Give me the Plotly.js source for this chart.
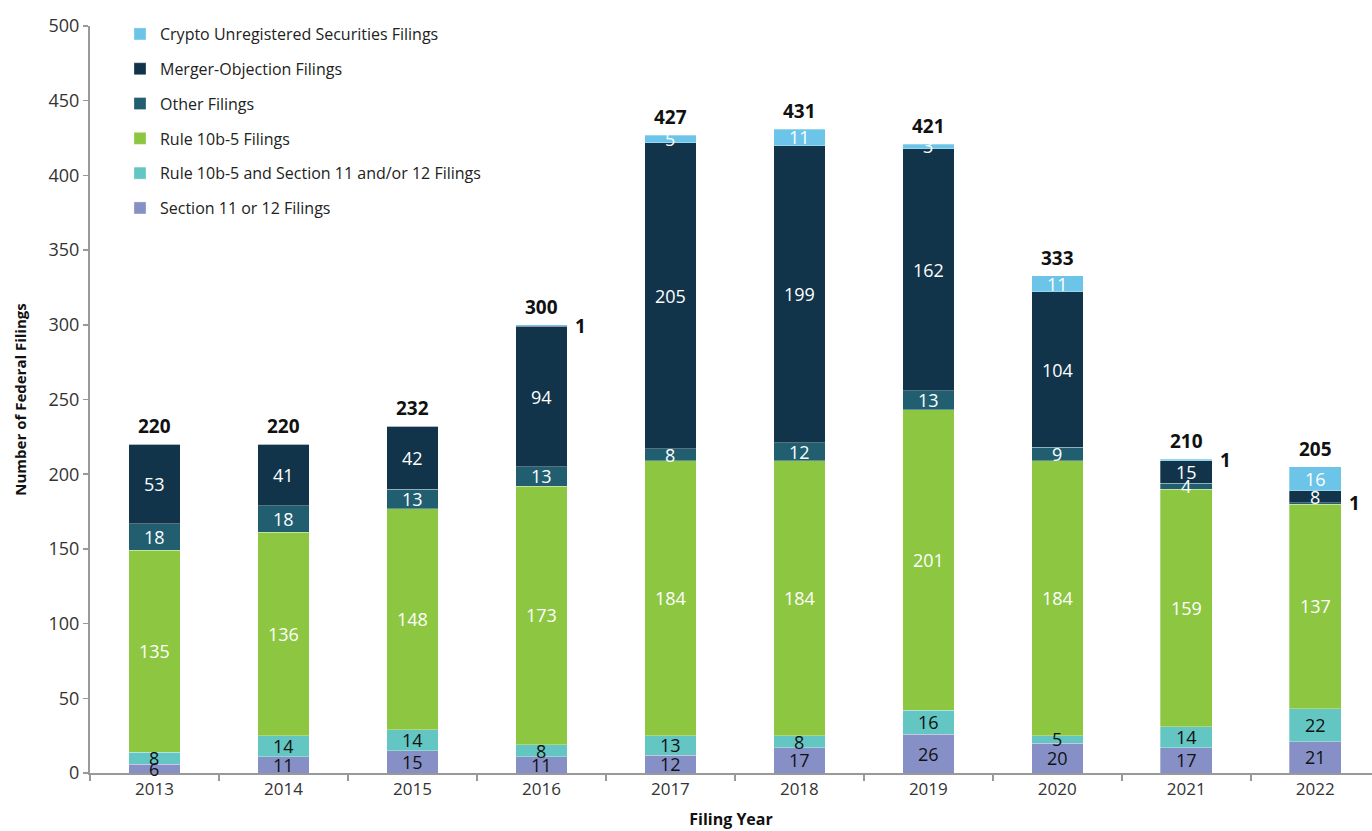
<!DOCTYPE html>
<html>
<head>
<meta charset="utf-8">
<script src="https://cdn.plot.ly/plotly-3.0.1.min.js"></script>
<style>html,body{margin:0;padding:0;background:#fff;}#chart{width:1372px;height:831px;}</style>
</head>
<body>
<div id="chart"></div>
<script>
const years = ["2013","2014","2015","2016","2017","2018","2019","2020","2021","2022"];
const section11 = [6, 11, 15, 11, 12, 17, 26, 20, 17, 21];
const rule10b5Section11 = [8, 14, 14, 8, 13, 8, 16, 5, 14, 22];
const rule10b5 = [135, 136, 148, 173, 184, 184, 201, 184, 159, 137];
const otherFilings = [18, 18, 13, 13, 8, 12, 13, 9, 4, 1];
const mergerObjection = [53, 41, 42, 94, 205, 199, 162, 104, 15, 8];
const crypto = [0, 0, 0, 1, 5, 11, 3, 11, 1, 16];
const totals = [220, 220, 232, 300, 427, 431, 421, 333, 210, 205];

const series = [
  {name: "Section 11 or 12 Filings", values: section11, color: "#8790C6", textColor: "#111111"},
  {name: "Rule 10b-5 and Section 11 and/or 12 Filings", values: rule10b5Section11, color: "#63C6C2", textColor: "#111111"},
  {name: "Rule 10b-5 Filings", values: rule10b5, color: "#8DC641", textColor: "#ffffff"},
  {name: "Other Filings", values: otherFilings, color: "#215E70", textColor: "#ffffff"},
  {name: "Merger-Objection Filings", values: mergerObjection, color: "#12344A", textColor: "#ffffff"},
  {name: "Crypto Unregistered Securities Filings", values: crypto, color: "#6CC4E8", textColor: "#ffffff"}
];

const FONT = "'Open Sans', 'Noto Sans', sans-serif";

const traces = series.map((s, i) => ({
  type: "bar",
  name: s.name,
  x: years,
  y: s.values,
  marker: {color: s.color, line: {color: "rgba(255,255,255,0.6)", width: 0.5}},
  width: 0.4,
  legendgroup: "g" + i,
  legendrank: series.length - i,
  hoverinfo: "x+y+name",
  textposition: "none"
}));

const annotations = [];
const base = years.map(() => 0);
series.forEach((s) => {
  s.values.forEach((v, j) => {
    if (v > 0) {
      if (v === 1) {
        annotations.push({
          x: j + 0.2, y: base[j] + v / 2, xref: "x", yref: "y",
          text: "<b>" + v + "</b>", showarrow: false, xanchor: "left", xshift: 6,
          font: {family: FONT, size: 19, color: "#111111"}
        });
      } else {
        annotations.push({
          x: j, y: base[j] + v / 2, xref: "x", yref: "y",
          text: String(v), showarrow: false,
          font: {family: FONT, size: 18, color: s.textColor}
        });
      }
    }
    base[j] += v;
  });
});
totals.forEach((t, j) => {
  annotations.push({
    x: j, y: t, xref: "x", yref: "y", text: "<b>" + t + "</b>",
    showarrow: false, yanchor: "bottom", yshift: 3,
    font: {family: FONT, size: 19, color: "#111111"}
  });
});

const layout = {
  width: 1372, height: 831,
  margin: {l: 90, r: 0, t: 26, b: 58},
  paper_bgcolor: "#ffffff", plot_bgcolor: "#ffffff",
  barmode: "stack",
  font: {family: FONT, color: "#333333"},
  showlegend: true,
  legend: {
    x: 0.0234, y: 1.012, xanchor: "left", yanchor: "top",
    traceorder: "grouped", tracegroupgap: 11,
    font: {family: FONT, size: 16, color: "#222222"},
    bgcolor: "rgba(0,0,0,0)"
  },
  xaxis: {
    type: "category",
    range: [-0.5, 9.44],
    tickson: "boundaries",
    ticks: "outside", ticklen: 6, tickcolor: "#999999", tickwidth: 1.5,
    showline: true, linecolor: "#999999", linewidth: 2,
    showgrid: false, zeroline: false,
    tickfont: {family: FONT, size: 17, color: "#333333"},
    title: {text: "<b>Filing Year</b>", font: {family: FONT, size: 16, color: "#111111"}, standoff: 14}
  },
  yaxis: {
    range: [0, 500],
    tickvals: [0, 50, 100, 150, 200, 250, 300, 350, 400, 450, 500],
    ticks: "outside", ticklen: 5, tickcolor: "#999999", tickwidth: 1.5,
    showline: true, linecolor: "#999999", linewidth: 2,
    showgrid: false, zeroline: false,
    tickfont: {family: FONT, size: 18, color: "#333333"},
    title: {text: "<b>Number of Federal Filings</b>", font: {family: FONT, size: 15, color: "#111111"}, standoff: 18}
  },
  annotations: annotations
};

Plotly.newPlot("chart", traces, layout, {displayModeBar: false, staticPlot: true});
</script>
</body>
</html>
